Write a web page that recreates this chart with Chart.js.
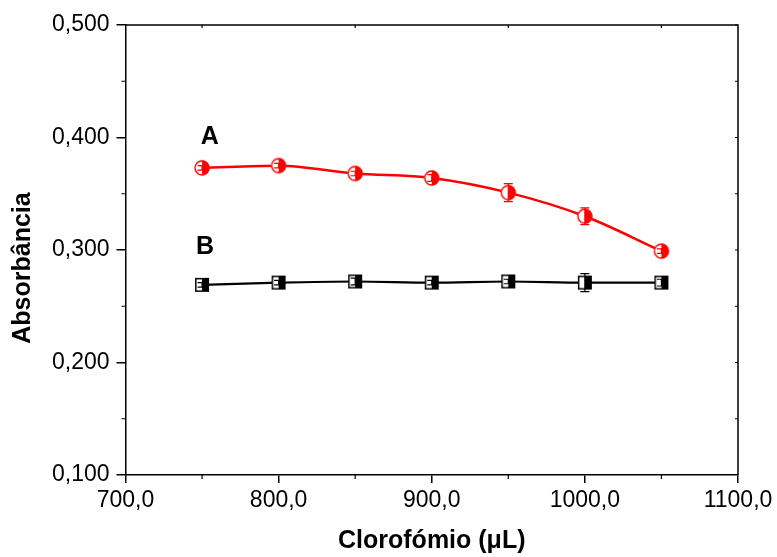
<!DOCTYPE html>
<html>
<head>
<meta charset="utf-8">
<script src="https://cdn.jsdelivr.net/npm/chart.js@4.4.0/dist/chart.umd.min.js"></script>
<style>
  html, body { margin: 0; padding: 0; background: #fff; }
  #wrap { width: 777px; height: 557px; }
</style>
</head>
<body>
<div id="wrap"><canvas id="absChart"></canvas></div>
<script>
// volume de clorofórmio (uL)
const volumes = [750, 800, 850, 900, 950, 1000, 1050];
// curva A
const absA = [0.373, 0.375, 0.368, 0.364, 0.351, 0.330, 0.299];
const errA = [0.002, 0.002, 0.002, 0.003, 0.008, 0.0075, 0.002];
// curva B
const absB = [0.269, 0.271, 0.272, 0.271, 0.272, 0.271, 0.271];
const errB = [0.002, 0.002, 0.003, 0.002, 0.002, 0.008, 0.003];

const xTicks = [700, 800, 900, 1000, 1100];
const yTicks = [0.1, 0.2, 0.3, 0.4, 0.5];

const FONT = "'Liberation Sans', Arial, sans-serif";

// marcadores meio preenchidos (metade direita cheia)
function halfCircle(color) {
    const c = document.createElement("canvas");
    c.width = 18; c.height = 18;
    const g = c.getContext("2d");
    g.fillStyle = "#fff";
    g.beginPath(); g.arc(9, 9, 7.5, 0, Math.PI * 2); g.fill();
    g.fillStyle = color;
    g.beginPath(); g.arc(9, 9, 7.5, -Math.PI / 2, Math.PI / 2); g.closePath(); g.fill();
    g.strokeStyle = color; g.lineWidth = 1.4;
    g.beginPath(); g.arc(9, 9, 7, 0, Math.PI * 2); g.stroke();
    return c;
}
function halfSquare(color) {
    const c = document.createElement("canvas");
    c.width = 16; c.height = 16;
    const g = c.getContext("2d");
    g.fillStyle = "#fff"; g.fillRect(1.5, 1.5, 13, 13);
    g.fillStyle = color; g.fillRect(8, 1.5, 6.5, 13);
    g.strokeStyle = color; g.lineWidth = 1.5;
    g.strokeRect(1.75, 1.75, 12.5, 12.5);
    return c;
}

const toPts = ys => volumes.map((v, i) => ({ x: v, y: ys[i] }));

// barras de erro
const errorBars = {
    id: "errorBars",
    afterDatasetsDraw(chart) {
        const ctx = chart.ctx;
        const xs = chart.scales.x, ys = chart.scales.y;
        chart.data.datasets.forEach(ds => {
            if (!ds.errors) return;
            ctx.save();
            ctx.strokeStyle = ds.borderColor;
            ctx.lineWidth = 1.2;
            ds.data.forEach((p, i) => {
                const px = xs.getPixelForValue(p.x);
                const top = ys.getPixelForValue(p.y + ds.errors[i]);
                const bot = ys.getPixelForValue(p.y - ds.errors[i]);
                ctx.beginPath();
                ctx.moveTo(px, top); ctx.lineTo(px, bot);
                ctx.moveTo(px - 4.5, top); ctx.lineTo(px + 4.5, top);
                ctx.moveTo(px - 4.5, bot); ctx.lineTo(px + 4.5, bot);
                ctx.stroke();
            });
            ctx.restore();
        });
    }
};

// moldura, ticks menores, título do eixo y e rótulos A / B
const frame = {
    id: "frame",
    afterDraw(chart) {
        const ctx = chart.ctx;
        const a = chart.chartArea;
        const xs = chart.scales.x, ys = chart.scales.y;
        ctx.save();
        ctx.strokeStyle = "#000";
        ctx.lineWidth = 1.5;
        ctx.beginPath();
        ctx.moveTo(a.left, a.top); ctx.lineTo(a.right, a.top); ctx.lineTo(a.right, a.bottom);
        ctx.stroke();
        ctx.lineWidth = 1.2;
        ctx.beginPath();
        for (let v = 750; v < 1100; v += 100) {
            const px = xs.getPixelForValue(v);
            ctx.moveTo(px, a.bottom); ctx.lineTo(px, a.bottom + 4);
            ctx.moveTo(px, a.top); ctx.lineTo(px, a.top + 3);
        }
        for (let v = 0.15; v < 0.5; v += 0.1) {
            const py = ys.getPixelForValue(v);
            ctx.moveTo(a.left, py); ctx.lineTo(a.left - 4, py);
        }
        for (let v = 0.15; v < 0.5; v += 0.05) {
            const py = ys.getPixelForValue(v);
            ctx.moveTo(a.right, py); ctx.lineTo(a.right - 3, py);
        }
        ctx.stroke();

        ctx.fillStyle = "#000";
        ctx.font = "bold 25px " + FONT;
        ctx.textAlign = "center";
        ctx.textBaseline = "middle";
        ctx.fillText("A", xs.getPixelForValue(755), ys.getPixelForValue(0.4));
        ctx.fillText("B", xs.getPixelForValue(752), ys.getPixelForValue(0.303));

        ctx.translate(23, 268);
        ctx.rotate(-Math.PI / 2);
        ctx.fillText("Absorbância", 0, 0);
        ctx.restore();
    }
};

new Chart(document.getElementById("absChart"), {
    type: "scatter",
    data: {
        datasets: [
            {
                label: "A",
                data: toPts(absA),
                errors: errA,
                showLine: true,
                cubicInterpolationMode: "monotone",
                borderColor: "#ff0000",
                borderWidth: 2.5,
                pointStyle: halfCircle("#ff0000"),
                pointRadius: 7,
                pointHoverRadius: 7
            },
            {
                label: "B",
                data: toPts(absB),
                errors: errB,
                showLine: true,
                cubicInterpolationMode: "monotone",
                borderColor: "#000000",
                borderWidth: 2.2,
                pointStyle: halfSquare("#000000"),
                pointRadius: 7,
                pointHoverRadius: 7
            }
        ]
    },
    options: {
        responsive: true,
        maintainAspectRatio: false,
        animation: false,
        events: [],
        layout: { padding: { top: 25, right: 39, left: 0, bottom: 0 } },
        plugins: { legend: { display: false }, tooltip: { enabled: false } },
        scales: {
            x: {
                type: "linear",
                min: 700, max: 1100,
                afterFit: s => { s.height = 82; },
                afterBuildTicks: s => { s.ticks = xTicks.map(v => ({ value: v })); },
                grid: { drawOnChartArea: false, drawTicks: true, tickLength: 8, color: "#000", lineWidth: 1.5 },
                border: { display: true, color: "#000", width: 1.5 },
                ticks: {
                    color: "#000",
                    font: { family: FONT, size: 23 },
                    padding: 4,
                    maxRotation: 0,
                    callback: v => v.toFixed(1).replace(".", ",")
                },
                title: {
                    display: true,
                    text: "Clorofómio (μL)",
                    color: "#000",
                    font: { family: FONT, size: 25, weight: "bold" },
                    padding: { top: 0, bottom: 1 }
                }
            },
            y: {
                min: 0.1, max: 0.5,
                afterFit: s => { s.width = 125.5; },
                afterBuildTicks: s => { s.ticks = yTicks.map(v => ({ value: v })); },
                grid: { drawOnChartArea: false, drawTicks: true, tickLength: 9, color: "#000", lineWidth: 1.5 },
                border: { display: true, color: "#000", width: 1.5 },
                ticks: {
                    color: "#000",
                    font: { family: FONT, size: 23 },
                    padding: 7,
                    callback: v => v.toFixed(3).replace(".", ",")
                }
            }
        }
    },
    plugins: [errorBars, frame]
});
</script>
</body>
</html>
